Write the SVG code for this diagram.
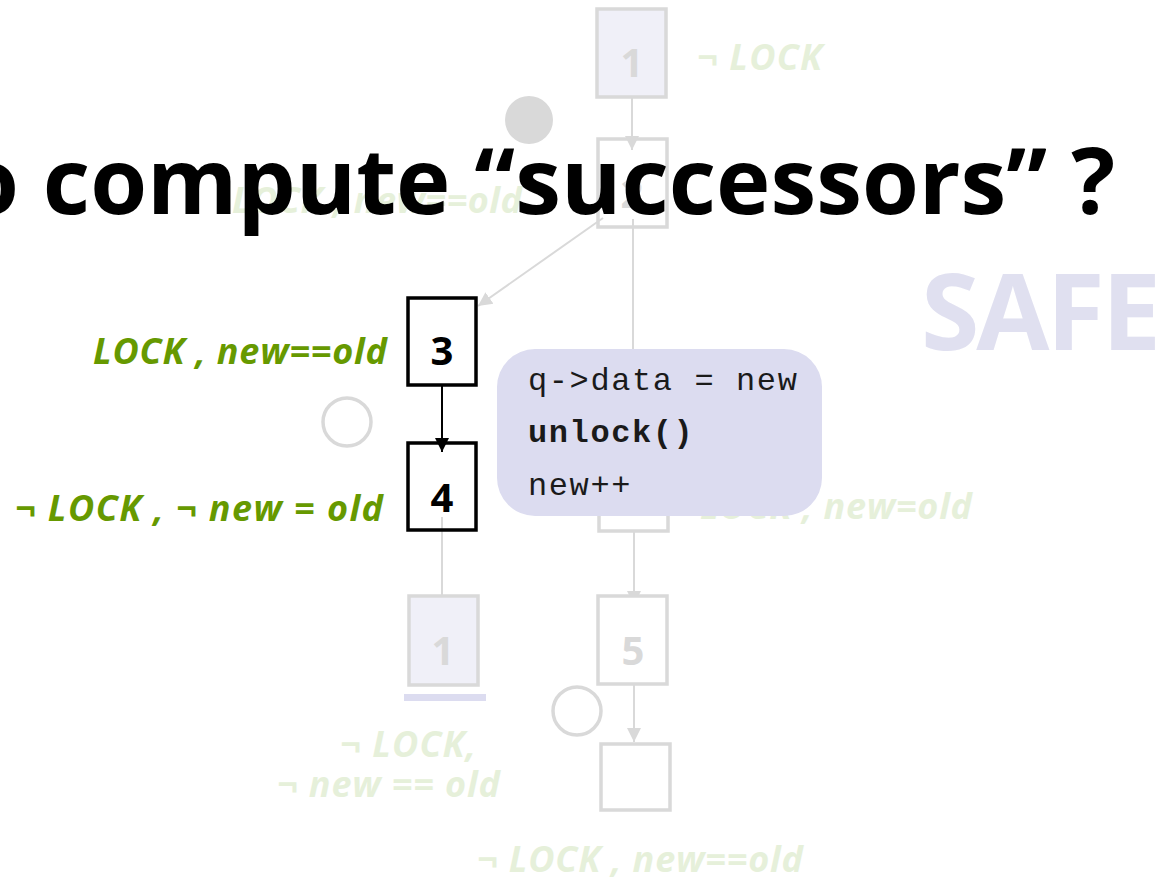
<svg xmlns="http://www.w3.org/2000/svg" width="1176" height="878" viewBox="0 0 1176 878">
<defs>
<style>
.box{fill:#ffffff;stroke:#d9d9d9;stroke-width:3.5}
.boxf{fill:#f0f0f8;stroke:#d9d9d9;stroke-width:3.5}
.boxb{fill:#ffffff;stroke:#000000;stroke-width:3.5}
.num{font-family:"Open Sans","Liberation Sans",sans-serif;font-weight:700;font-size:40px;text-anchor:middle}
.ng{fill:#d9d9d9}
.nb{fill:#000000}
.lbl{font-family:"Open Sans","Liberation Sans",sans-serif;font-weight:700;font-style:italic;font-size:36px}
.fade{fill:#e6f0da}
.green{fill:#669900}
.cg{stroke:#d9d9d9;stroke-width:2;fill:none}
.cb{stroke:#000000;stroke-width:2;fill:none}
.code{font-family:"Liberation Mono","Courier New",monospace;font-size:32px;fill:#1a1a1a;letter-spacing:1.6px}
</style>
<marker id="ag" markerUnits="userSpaceOnUse" markerWidth="16" markerHeight="16" viewBox="0 0 16 16" refX="14" refY="8" orient="auto">
<path d="M0,1 L14,8 L0,15 Z" fill="#d9d9d9"/>
</marker>
<marker id="ab" markerUnits="userSpaceOnUse" markerWidth="16" markerHeight="16" viewBox="0 0 16 16" refX="14" refY="8" orient="auto">
<path d="M0,1 L14,8 L0,15 Z" fill="#000000"/>
</marker>
</defs>
<rect width="1176" height="878" fill="#ffffff"/>

<text x="921" y="350" font-family="Open Sans, Liberation Sans, sans-serif" font-weight="700" font-size="106" fill="#e0e0f0" textLength="240">SAFE</text>

<g id="labels">
<text class="lbl fade" x="697" y="70" textLength="125">¬ LOCK</text>
<text class="lbl fade" x="232" y="213" textLength="290">LOCK , new==old</text>
<text class="lbl green" x="93" y="364" textLength="294">LOCK , new==old</text>
<text class="lbl green" x="15" y="521" textLength="368">¬ LOCK , ¬ new = old</text>
<text class="lbl fade" x="700" y="519" textLength="272">LOCK , new=old</text>
<text class="lbl fade" x="340" y="757" textLength="136">¬ LOCK,</text>
<text class="lbl fade" x="277" y="797" textLength="223">¬ new == old</text>
<text class="lbl fade" x="477" y="872" textLength="326">¬ LOCK , new==old</text>
</g>

<g id="connectors">
<line class="cg" x1="632" y1="88" x2="632" y2="150" marker-end="url(#ag)"/>
<line class="cg" x1="603" y1="218" x2="478" y2="306" marker-end="url(#ag)"/>
<line class="cg" x1="633" y1="219" x2="633" y2="440"/>
<line class="cb" x1="442" y1="378" x2="442" y2="452" marker-end="url(#ab)"/>
<line class="cg" x1="442" y1="517" x2="442" y2="596"/>
<line class="cg" x1="634" y1="522" x2="634" y2="605" marker-end="url(#ag)"/>
<line class="cg" x1="634" y1="678" x2="634" y2="742" marker-end="url(#ag)"/>
</g>

<g id="node1">
<rect class="boxf" x="597" y="9" width="69" height="88"/>
<text class="num ng" x="632" y="77">1</text>
</g>
<g id="node2">
<rect class="box" x="598" y="139" width="69" height="88" style="fill:none"/>
<text class="num ng" x="632" y="208">2</text>
</g>
<g id="node3">
<rect class="boxb" x="408" y="298" width="68" height="87"/>
<text class="num nb" x="442" y="365">3</text>
</g>
<g id="node4">
<rect class="boxb" x="408" y="443" width="68" height="87" style="fill:none"/>
<text class="num nb" x="442" y="512">4</text>
</g>
<g id="node4b">
<rect class="box" x="599" y="443" width="69" height="88"/>
</g>
<g id="node1b">
<rect class="boxf" x="409" y="596" width="69" height="89"/>
<text class="num ng" x="443" y="665">1</text>
<rect x="404" y="694" width="82" height="7" fill="#dcdcf0"/>
</g>
<g id="node5">
<rect class="box" x="598" y="596" width="69" height="88"/>
<text class="num ng" x="633" y="665">5</text>
</g>
<g id="node6">
<rect class="box" x="601" y="744" width="69" height="66"/>
</g>

<g id="circles">
<circle cx="529" cy="120" r="24" fill="#d9d9d9"/>
<circle cx="347" cy="422" r="24" fill="none" stroke="#d9d9d9" stroke-width="3.5"/>
<circle cx="577" cy="711" r="24" fill="none" stroke="#d9d9d9" stroke-width="3.5"/>
</g>

<g id="callout">
<rect x="497" y="349" width="325" height="167" rx="38" fill="#dcdcf0"/>
<text class="code" x="528" y="390">q-&gt;data = new</text>
<text class="code" x="528" y="442" font-weight="700">unlock()</text>
<text class="code" x="528" y="495">new++</text>
</g>

<text x="-38" y="214" font-family="Open Sans, Liberation Sans, sans-serif" font-weight="700" font-size="92" fill="#000000">o compute “successors” ?</text>
</svg>
